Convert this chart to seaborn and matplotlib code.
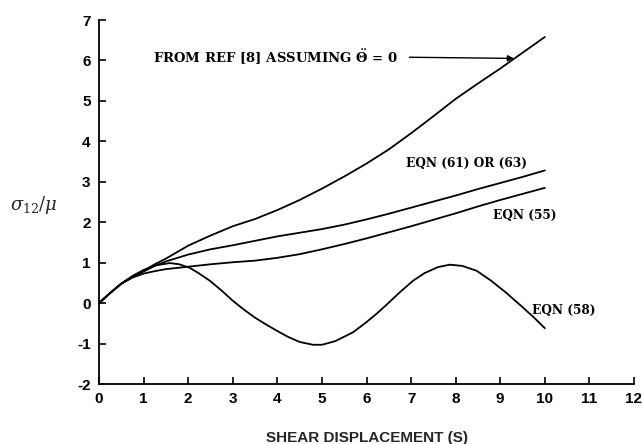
import matplotlib
matplotlib.use("Agg")
import matplotlib.pyplot as plt
import seaborn as sns
import pandas as pd

# ---- data ----
s_ref8 = [0, 0.25, 0.5, 0.75, 1.0, 1.25, 1.5, 2.0, 2.5, 3.0, 3.5, 4.0, 4.5, 5.0,
          5.5, 6.0, 6.5, 7.0, 7.5, 8.0, 8.5, 9.0, 9.5, 10.0]
y_ref8 = [0, 0.25, 0.48, 0.66, 0.8, 0.96, 1.1, 1.42, 1.67, 1.9, 2.08, 2.3, 2.55, 2.83,
          3.13, 3.45, 3.8, 4.2, 4.62, 5.05, 5.43, 5.8, 6.19, 6.58]

s_eq61 = [0, 0.25, 0.5, 0.75, 1.0, 1.25, 1.5, 2.0, 2.5, 3.0, 3.5, 4.0, 4.5, 5.0,
          5.5, 6.0, 6.5, 7.0, 7.5, 8.0, 8.5, 9.0, 9.5, 10.0]
y_eq61 = [0, 0.25, 0.48, 0.65, 0.78, 0.92, 1.03, 1.2, 1.33, 1.43, 1.54, 1.65, 1.74, 1.83,
          1.94, 2.07, 2.21, 2.36, 2.51, 2.66, 2.82, 2.97, 3.12, 3.28]

s_eq55 = [0, 0.25, 0.5, 0.75, 1.0, 1.25, 1.5, 2.0, 2.5, 3.0, 3.5, 4.0, 4.5, 5.0,
          5.5, 6.0, 6.5, 7.0, 7.5, 8.0, 8.5, 9.0, 9.5, 10.0]
y_eq55 = [0, 0.25, 0.48, 0.63, 0.73, 0.79, 0.84, 0.9, 0.96, 1.01, 1.05, 1.12, 1.21, 1.33,
          1.46, 1.6, 1.75, 1.9, 2.06, 2.22, 2.39, 2.55, 2.7, 2.85]

s_eq58 = [0, 0.25, 0.5, 0.75, 1.0, 1.25, 1.59, 1.8, 2.04, 2.25, 2.49, 2.75, 3.0, 3.25,
          3.5, 3.75, 4.0, 4.25, 4.5, 4.8, 5.0, 5.3, 5.7, 6.0, 6.25, 6.45, 6.75, 7.04,
          7.3, 7.6, 7.87, 8.15, 8.47, 8.8, 9.14, 9.5, 9.75, 10.0]
y_eq58 = [0, 0.25, 0.48, 0.67, 0.82, 0.93, 0.99, 0.96, 0.87, 0.73, 0.55, 0.31, 0.06, -0.16,
          -0.36, -0.53, -0.69, -0.84, -0.96, -1.03, -1.03, -0.94, -0.72, -0.47, -0.24, -0.04, 0.27, 0.55,
          0.74, 0.89, 0.95, 0.92, 0.8, 0.55, 0.25, -0.1, -0.35, -0.62]

x_ticks = [0, 1, 2, 3, 4, 5, 6, 7, 8, 9, 10, 11, 12]
y_ticks = [-2, -1, 0, 1, 2, 3, 4, 5, 6, 7]

labels = {
    "ref8": r"FROM REF [8] ASSUMING $\mathbf{\ddot{\Theta}}$ = 0",
    "eq61": "EQN (61) OR (63)",
    "eq55": "EQN (55)",
    "eq58": "EQN (58)",
}

frames = []
for name, s, y in [("ref8", s_ref8, y_ref8), ("eq61", s_eq61, y_eq61),
                   ("eq55", s_eq55, y_eq55), ("eq58", s_eq58, y_eq58)]:
    frames.append(pd.DataFrame({"s": s, "y": y, "curve": name}))
df = pd.concat(frames, ignore_index=True)

sns.set_style("ticks")
plt.rcParams["font.family"] = ["Liberation Sans", "DejaVu Sans"]
plt.rcParams["mathtext.fontset"] = "dejavuserif"

fig = plt.figure(figsize=(6.42, 4.44), dpi=100)
ax = fig.add_axes([99 / 642, 1 - 384 / 444, (634 - 99) / 642, (384 - 20) / 444])

sns.lineplot(data=df, x="s", y="y", units="curve", estimator=None, sort=False,
             color="black", linewidth=1.3, ax=ax, legend=False)

ax.set_xlim(0, 12)
ax.set_ylim(-2, 7)
ax.set_xticks(x_ticks)
ax.set_yticks(y_ticks)
ax.set_xticklabels([str(t) for t in x_ticks], fontsize=11, fontweight="bold")
ax.set_yticklabels([str(t) for t in y_ticks], fontsize=11, fontweight="bold")
ax.tick_params(direction="in", length=5, width=1.2, colors="black", pad=6)
for side in ["top", "right"]:
    ax.spines[side].set_visible(False)
for side in ["left", "bottom"]:
    ax.spines[side].set_linewidth(1.3)
    ax.spines[side].set_color("black")

ax.set_xlabel("SHEAR DISPLACEMENT (S)", fontsize=11, fontweight="bold", labelpad=18)
ax.set_ylabel("")
fig.text(10 / 642, 1 - 205 / 444, r"$\sigma_{12}/\mu$", fontsize=13,
         ha="left", va="center")

afont = dict(family="DejaVu Serif", fontweight="bold", fontsize=8.7, color="black")
ax.text(1.21, 6.08, labels["ref8"], ha="left", va="center",
        **{**afont, "fontsize": 9.5})
ax.annotate("", xy=(9.37, 6.05), xytext=(6.9, 6.08),
            arrowprops=dict(arrowstyle="-|>", lw=1.0, color="black", mutation_scale=9))
ax.text(6.88, 3.45, labels["eq61"], ha="left", va="center", **afont)
ax.text(8.83, 2.16, labels["eq55"], ha="left", va="center", **afont)
ax.text(9.71, -0.17, labels["eq58"], ha="left", va="center", **afont)

fig.savefig("out.png", dpi=100)
